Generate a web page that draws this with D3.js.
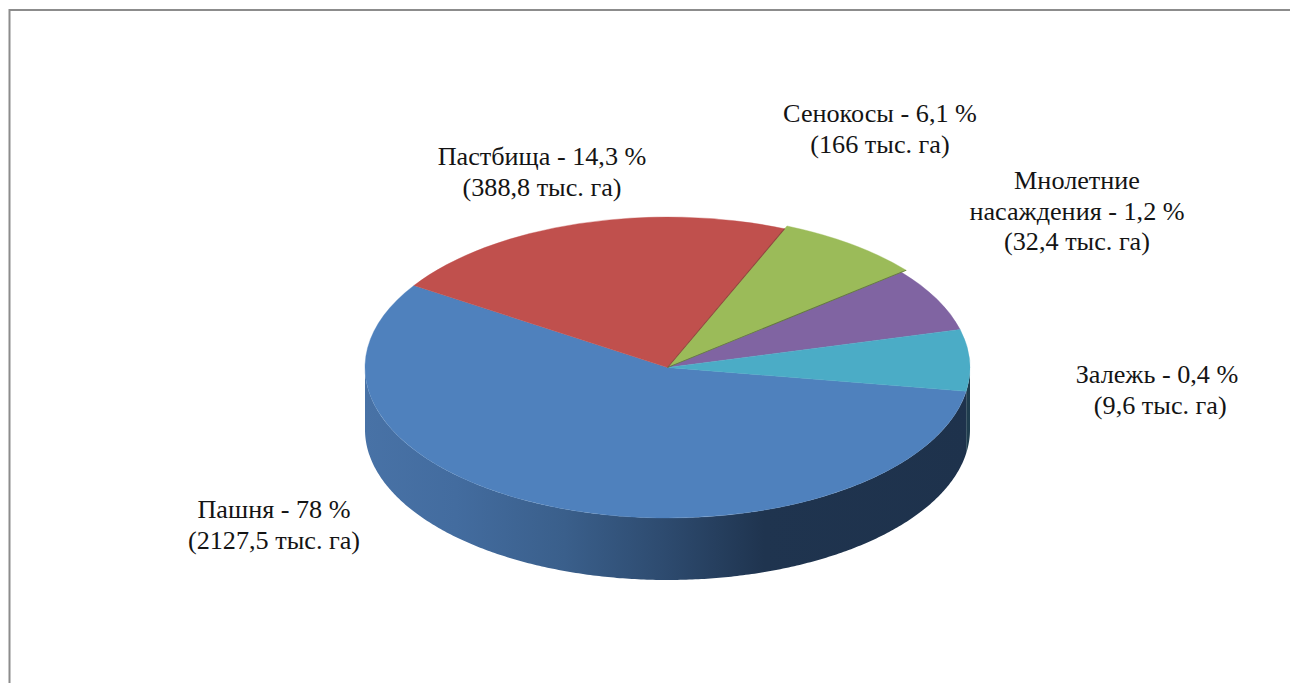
<!DOCTYPE html>
<html>
<head>
<meta charset="utf-8">
<script src="https://cdnjs.cloudflare.com/ajax/libs/d3/7.8.5/d3.min.js"></script>
<style>
    html, body { margin: 0; background: #fff; overflow: hidden; }
    svg { display: block; }
    text { font-family: "Liberation Serif", serif; font-size: 26.2px; fill: #141414; }
</style>
</head>
<body>
<svg id="chart" width="1290" height="683"></svg>
<script>
// slice shares as they are drawn in the picture (the drawn pie is not proportional to the captions)
const categories = ["Пашня", "Пастбища", "Сенокосы", "Многолетние", "Залежь"];
const drawnShares = [56.65, 22.15, 7.75, 6.85, 6.6];
const sliceReach = [1, 1, 1.02, 1, 1]; // green slice sits a touch proud of the disc
const topColors = ["#4f81bd", "#c0504d", "#9bbb59", "#8064a2", "#4bacc6"];
const wallColors = ["url(#wallGradient)", "#8c3a38", "#6f8740", "#5c4875", "#1f3d4e"];
const edgeColors = [null, "#8f3f3c", "#5f7a32", null, null];

const captions = [
    {lines: ["Пашня - 78 %", "(2127,5 тыс. га)"], x: 274, y: 518},
    {lines: ["Пастбища - 14,3 %", "(388,8 тыс. га)"], x: 542, y: 165},
    {lines: ["Сенокосы - 6,1 %", "(166 тыс. га)"], x: 880, y: 122},
    {lines: ["Мнолетние", "насаждения - 1,2 %", "(32,4 тыс. га)"], x: 1077, y: 189},
    {lines: ["Залежь - 0,4 %", " (9,6 тыс. га)"], x: 1157, y: 383}
];

const cx = 667.5, cy = 367.5, rx = 302.5, ry = 150.5, depth = 62;
const lineHeight = 30.6;
const startAngle = 99.1 * Math.PI / 180;

const svg = d3.select("#chart");

// frame, runs off the right and bottom of the page
svg.append("rect")
    .attr("x", 9.5).attr("y", 10)
    .attr("width", 1400).attr("height", 800)
    .attr("fill", "none")
    .attr("stroke", "#8c8c8c")
    .attr("stroke-width", 2);

const gradient = svg.append("defs").append("linearGradient")
    .attr("id", "wallGradient")
    .attr("gradientUnits", "userSpaceOnUse")
    .attr("x1", cx - rx).attr("x2", cx + rx)
    .attr("y1", 0).attr("y2", 0);
gradient.selectAll("stop")
    .data([[0, "#4872a6"], [0.15, "#436c9f"], [0.33, "#3a5f8b"], [0.5, "#2d4a6e"], [0.66, "#1f344f"], [1, "#1e324c"]])
    .join("stop")
    .attr("offset", d => d[0])
    .attr("stop-color", d => d[1]);

const arcs = d3.pie().sort(null)
    .startAngle(startAngle)
    .endAngle(startAngle + 2 * Math.PI)(drawnShares);

// side wall: only the front half of the disc can be seen
const wallArea = d3.area()
    .x(a => cx + rx * Math.sin(a))
    .y0(a => cy - ry * Math.cos(a))
    .y1(a => cy - ry * Math.cos(a) + depth);

function wallAngles(d) {
    // fold the angle into one turn, the last slices run past 360 degrees
    const turn = 2 * Math.PI;
    const a0 = Math.max(d.startAngle, Math.PI / 2);
    const a1 = Math.min(d.endAngle, 3 * Math.PI / 2);
    if (a1 <= a0) {
        const b0 = Math.max(d.startAngle, turn + Math.PI / 2);
        const b1 = Math.min(d.endAngle, turn + 3 * Math.PI / 2);
        return b1 > b0 ? d3.range(b0, b1, 0.01).concat(b1) : [];
    }
    return d3.range(a0, a1, 0.01).concat(a1);
}

svg.append("g").selectAll("path")
    .data(arcs)
    .join("path")
    .attr("d", d => {
        const angles = wallAngles(d);
        return angles.length ? wallArea(angles) : null;
    })
    .attr("fill", d => wallColors[d.index]);

// top face is a flat pie squashed into an ellipse
const arc = d3.arc().innerRadius(0).outerRadius(d => rx * sliceReach[d.index]);
const topFace = svg.append("g")
    .attr("transform", `translate(${cx},${cy}) scale(1,${ry / rx})`);

topFace.selectAll("path")
    .data(arcs)
    .join("path")
    .attr("d", arc)
    .attr("fill", d => topColors[d.index])
    .attr("stroke", d => topColors[d.index])
    .attr("stroke-width", 0.5);

// darker seam along the end of the red and green slices
topFace.selectAll("line")
    .data(arcs.filter(d => edgeColors[d.index]))
    .join("line")
    .attr("x2", d => d3.pointRadial(d.endAngle, rx * sliceReach[d.index])[0])
    .attr("y2", d => d3.pointRadial(d.endAngle, rx * sliceReach[d.index])[1])
    .attr("stroke", d => edgeColors[d.index])
    .attr("stroke-width", 1.2);

const labels = svg.append("g").selectAll("text")
    .data(captions)
    .join("text")
    .attr("text-anchor", "middle")
    .attr("xml:space", "preserve")
    .attr("x", d => d.x)
    .attr("y", d => d.y);

labels.selectAll("tspan")
    .data(d => d.lines.map((line, i) => ({line, i, x: d.x})))
    .join("tspan")
    .attr("x", d => d.x)
    .attr("dy", d => d.i === 0 ? 0 : lineHeight)
    .text(d => d.line);
</script>
</body>
</html>
